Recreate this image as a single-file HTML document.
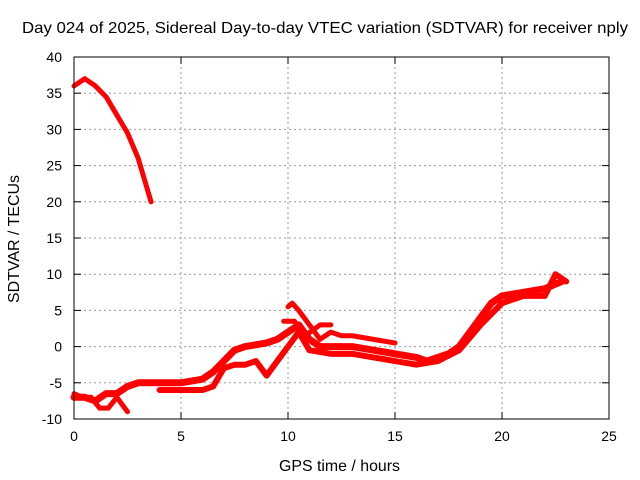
<!DOCTYPE html>
<html><head><meta charset="utf-8"><style>
body{margin:0;background:#fff}
svg{display:block;font-family:"Liberation Sans",sans-serif}
</style></head><body>
<svg id="chart" width="640" height="480" viewBox="0 0 640 480">
<rect width="640" height="480" fill="#fff"/>
<text x="22" y="33" font-size="16" textLength="606" lengthAdjust="spacingAndGlyphs">Day 024 of 2025, Sidereal Day-to-day VTEC variation (SDTVAR) for receiver nply</text>
<g id="grid"></g>
<g id="series"></g>
<rect x="74" y="57" width="535" height="362" fill="none" stroke="#000" stroke-width="1"/>
<g id="ticks"></g>
<text x="279" y="471" font-size="16" textLength="121" lengthAdjust="spacingAndGlyphs">GPS time / hours</text>
<text transform="translate(19,303) rotate(-90)" font-size="16" textLength="128" lengthAdjust="spacingAndGlyphs">SDTVAR / TECUs</text>
</svg>
<script>
const xTicks=[0,5,10,15,20,25];
const yTicks=[-10,-5,0,5,10,15,20,25,30,35,40];
const s1x=[0,0.5,1,1.5,2,2.5,3,3.3,3.6];
const s1y=[36,37,36,34.5,32,29.5,26,23,20];
const s2x=[0,0.5,1,1.5,2,2.5,3,4,5,6,6.5,7,7.5,8,9,9.5,10,10.5,11,11.5,12,13,14,15,16,16.5,17,17.5,18,18.5,19,19.5,20,21,22,22.8];
const s2y=[-7,-7,-7.5,-6.5,-6.5,-5.5,-5,-5,-5,-4.5,-3.5,-2,-0.5,0,0.5,1,2,3,1,0,0,0,-0.5,-1,-1.5,-2,-1.5,-1,0,2,4,6,7,7.5,8,9];
const s3x=[0,0.4,0.8,1.2,1.6,2,2.5];
const s3y=[-6.5,-7,-7,-8.5,-8.5,-7,-9];
const s4x=[4,5,6,6.5,7,7.5,8,8.5,9,9.5,10,10.5,11,12,13,14,15,16,17,18,19,20,21,22,22.5,23];
const s4y=[-6,-6,-6,-5.5,-3,-2.5,-2.5,-2,-4,-2,0,2,-0.5,-1,-1,-1.5,-2,-2.5,-2,-0.5,3,6,7,7,10,9];
const s5x=[10,10.2,10.5,11,11.5,12,12.5,13,14,15];
const s5y=[5.5,6,5,3,1,2,1.5,1.5,1,0.5];
const s6x=[9.8,10.3,10.8,11.5,12];
const s6y=[3.5,3.5,1.5,3,3];
const X=v=>74+v*535/25, Y=v=>419-(v+10)*362/50;
const NS="http://www.w3.org/2000/svg";
const grid=document.getElementById('grid'),ticks=document.getElementById('ticks'),ser=document.getElementById('series');
function mk(tag,a,p){const e=document.createElementNS(NS,tag);for(const k in a)e.setAttribute(k,a[k]);p.appendChild(e);return e;}
xTicks.forEach(t=>{
  if(t>0&&t<25){const g=mk('line',{x1:X(t),x2:X(t),y1:57,y2:419,stroke:'#999','stroke-dasharray':'2,3'},grid);
  
  }
  const l=mk('text',{x:X(t),y:441,'font-size':14,'text-anchor':'middle'},ticks);l.textContent=t;
  
  
  mk('line',{x1:X(t),x2:X(t),y1:419,y2:412,stroke:'#000'},ticks);
  mk('line',{x1:X(t),x2:X(t),y1:57,y2:64,stroke:'#000'},ticks);
});
yTicks.forEach(t=>{
  if(t>-10&&t<40){const g=mk('line',{x1:74,x2:609,y1:Y(t),y2:Y(t),stroke:'#999','stroke-dasharray':'2,3'},grid);
  
  }
  const l=mk('text',{x:62,y:Y(t)+5,'font-size':14,'text-anchor':'end'},ticks);l.textContent=t;
  
  
  mk('line',{x1:74,x2:81,y1:Y(t),y2:Y(t),stroke:'#000'},ticks);
  mk('line',{x1:609,x2:602,y1:Y(t),y2:Y(t),stroke:'#000'},ticks);
});
[[s1x,s1y,5],[s2x,s2y,7],[s3x,s3y,5],[s4x,s4y,6],[s5x,s5y,5],[s6x,s6y,5]].forEach((s,i)=>{
  const pts=s[0].map((x,j)=>X(x)+','+Y(s[1][j])).join(' ');
  const p=mk('polyline',{points:pts,fill:'none',stroke:'#f00','stroke-width':s[2],'stroke-linejoin':'round','stroke-linecap':'round'},ser);
  
  
});
</script>
</body></html>
